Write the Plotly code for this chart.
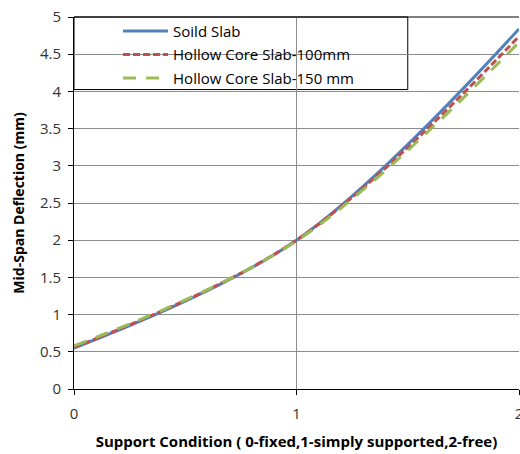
import plotly.graph_objects as go

support = [0, 1, 2]
solid = [0.55, 2.0, 4.84]
hollow100 = [0.56, 2.0, 4.74]
hollow150 = [0.58, 1.99, 4.66]
names = ["Soild Slab", "Hollow Core Slab-100mm", "Hollow Core Slab-150 mm"]
colors = ["#4F81BD", "#C0504D", "#9BBB59"]
dashes = ["solid", "7px,3px", "13px,10px"]
series = [solid, hollow100, hollow150]

FONT = "Open Sans"
fig = go.Figure()
for i, (nm, ys) in enumerate(zip(names, series)):
    fig.add_trace(go.Scatter(
        x=support, y=ys, mode="lines", name=nm,
        line=dict(color=colors[i], width=3, dash=dashes[i], shape="spline", smoothing=1),
        legendgroup=f"g{i}", cliponaxis=False,
    ))

fig.add_shape(type="rect", xref="paper", yref="paper",
              x0=0, x1=0.75, y0=0.805, y1=1.0,
              line=dict(color="#000000", width=1), fillcolor="white", layer="between")

fig.update_layout(
    width=520, height=454,
    margin=dict(l=74, r=1, t=17, b=65, autoexpand=False),
    paper_bgcolor="white", plot_bgcolor="white",
    font=dict(family=FONT, size=14, color="#000000"),
    showlegend=True,
    legend=dict(x=0.099, y=1.006, xanchor="left", yanchor="top",
                bgcolor="rgba(0,0,0,0)", borderwidth=0,
                font=dict(family=FONT, size=15, color="#000000"),
                itemwidth=45, tracegroupgap=1),
    xaxis=dict(range=[0, 2], tickvals=[0, 1, 2], showgrid=True, gridcolor="#8C8C8C",
               gridwidth=1, zeroline=False, showline=True, linecolor="#000000", linewidth=1,
               ticks="outside", ticklen=5, tickcolor="#000000", automargin=False,
               ticklabeloverflow="allow", ticklabelstandoff=6,
               tickfont=dict(size=15, color="#333333"),
               title=dict(text="<b>Support Condition ( 0-fixed,1-simply supported,2-free)</b>",
                          font=dict(size=15, color="#000000"), standoff=14)),
    yaxis=dict(range=[0, 5], dtick=0.5, showgrid=True, gridcolor="#8C8C8C", gridwidth=1,
               zeroline=False, showline=True, linecolor="#000000", linewidth=1,
               ticks="outside", ticklen=5, tickcolor="#000000", automargin=False,
               ticklabelstandoff=4,
               tickfont=dict(size=15, color="#333333"),
               title=dict(text="<b>Mid-Span Deflection (mm)</b>",
                          font=dict(size=14, color="#000000"), standoff=12)),
)
fig.add_shape(type="line", xref="paper", yref="paper", x0=0, x1=1, y0=1, y1=1,
              line=dict(color="#000000", width=1))

fig.write_html("out.html", config={"displayModeBar": False},
               post_script="document.body.style.margin='0';document.body.style.overflow='hidden';")
